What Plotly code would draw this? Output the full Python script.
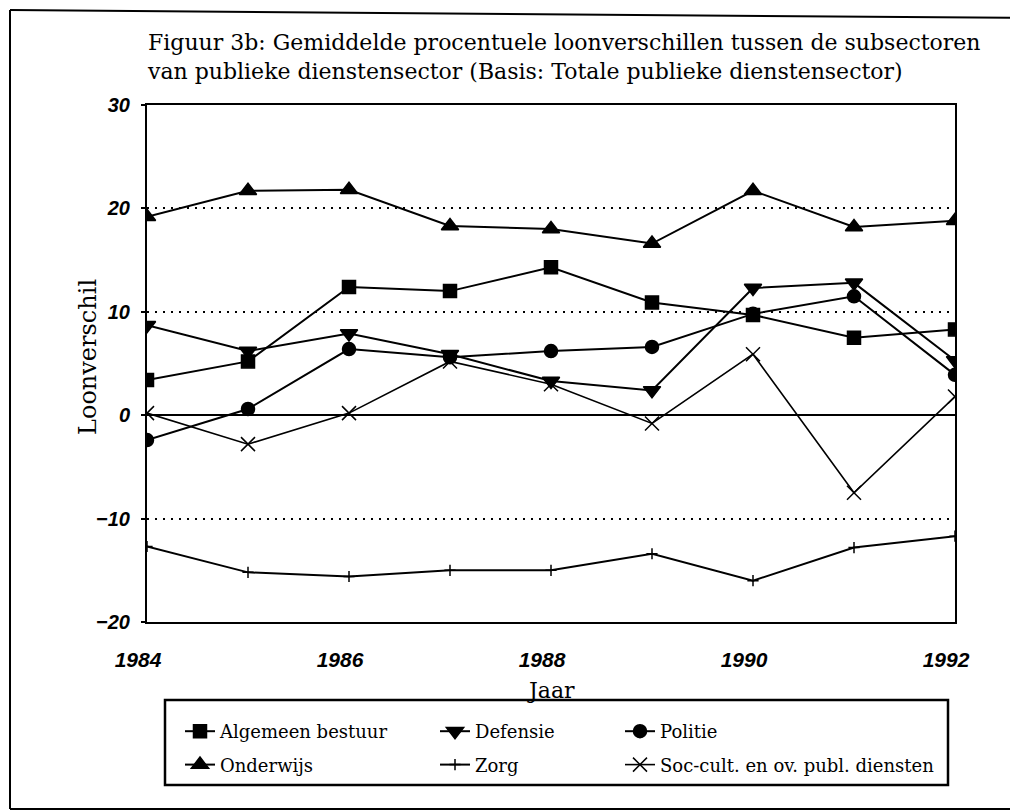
import plotly.graph_objects as go

years = [1984, 1985, 1986, 1987, 1988, 1989, 1990, 1991, 1992]

algemeen_bestuur = [3.4, 5.2, 12.4, 12.0, 14.3, 10.9, 9.7, 7.5, 8.3]
defensie = [8.7, 6.2, 7.9, 5.9, 3.3, 2.4, 12.3, 12.8, 5.3]
politie = [-2.4, 0.6, 6.4, 5.6, 6.2, 6.6, 9.8, 11.5, 3.9]
onderwijs = [19.2, 21.7, 21.8, 18.3, 18.0, 16.6, 21.7, 18.2, 18.8]
zorg = [-12.7, -15.2, -15.6, -15.0, -15.0, -13.4, -16.0, -12.8, -11.7]
soc_cult = [0.2, -2.8, 0.2, 5.2, 3.0, -0.8, 5.9, -7.5, 1.8]

y_ticks = [-20, -10, 0, 10, 20, 30]
x_ticks = [1984, 1986, 1988, 1990, 1992]

title_text = ("Figuur 3b: Gemiddelde procentuele loonverschillen tussen de subsectoren<br>"
              "van publieke dienstensector (Basis: Totale publieke dienstensector)")

# name, values, symbol, size, line width, legend column
series = [
    ("Algemeen bestuur", algemeen_bestuur, "square", 13, 2, "legend"),
    ("Defensie", defensie, "triangle-down", 15, 2, "legend2"),
    ("Politie", politie, "circle", 13, 2, "legend3"),
    ("Onderwijs", onderwijs, "triangle-up", 15, 2, "legend"),
    ("Zorg", zorg, "cross-thin", 8, 2, "legend2"),
    ("Soc-cult. en ov. publ. diensten", soc_cult, "x-thin", 14, 1.6, "legend3"),
]

fig = go.Figure()
for i, (name, vals, sym, size, lw, leg) in enumerate(series):
    fig.add_trace(go.Scatter(
        x=years, y=vals, name=name, mode="lines+markers",
        line=dict(color="black", width=lw),
        marker=dict(symbol=sym, size=size, color="black",
                    line=dict(color="black", width=1.5)),
        legend=leg, legendgroup="g%d" % i,
    ))

W, H = 1018, 812
OFF = 8  # page body margin offset
serif = "DejaVu Serif"
sans = "Liberation Sans"
# target plot area on screen: x 147..955, y 105..622
L, R, T, B = 147 - OFF, W - (955 - OFF), 105 - OFF, H - (622 - OFF)
PW, PH = W - L - R, H - T - B


def px_x(sx):
    return (sx - OFF - L) / PW


def px_y(sy):
    return (H - B - (sy - OFF)) / PH


leg_common = dict(orientation="v", xref="paper", yref="paper",
                  xanchor="left", yanchor="top", bgcolor="rgba(0,0,0,0)",
                  borderwidth=0, tracegroupgap=7,
                  font=dict(family=serif, size=18, color="black"))
leg_top = px_y(713)

fig.update_layout(
    width=W, height=H,
    margin=dict(l=L, r=R, t=T, b=B),
    paper_bgcolor="white", plot_bgcolor="white",
    title=dict(text=title_text, x=140 / W, xanchor="left", xref="container",
               y=1 - 42 / H, yanchor="top", yref="container",
               font=dict(family=serif, size=22, color="black")),
    xaxis=dict(
        range=[1984, 1992], tickvals=x_ticks, ticktext=[str(v) for v in x_ticks],
        showline=True, mirror=True, linecolor="black", linewidth=2,
        showgrid=False, zeroline=False, ticks="", ticklabelstandoff=18,
        ticklabelshift=-9, automargin=False,
        tickfont=dict(family=sans, size=21, color="black", weight="bold", style="italic"),
    ),
    yaxis=dict(
        range=[-20, 30], tickvals=y_ticks,
        showline=True, mirror=True, linecolor="black", linewidth=2,
        showgrid=True, gridcolor="black", gridwidth=1.5, griddash="2px,6px",
        zeroline=True, zerolinecolor="black", zerolinewidth=2,
        ticks="outside", ticklen=4, tickwidth=1.5, tickcolor="black",
        ticklabelstandoff=7, automargin=False,
        tickfont=dict(family=sans, size=20, color="black", weight="bold", style="italic"),
    ),
    legend=dict(x=px_x(180), y=leg_top, **leg_common),
    legend2=dict(x=px_x(435), y=leg_top, **leg_common),
    legend3=dict(x=px_x(620), y=leg_top, **leg_common),
    showlegend=True,
    annotations=[
        dict(text="Jaar", xref="paper", yref="paper", x=0.5, y=px_y(690),
             showarrow=False, xanchor="center", yanchor="middle",
             font=dict(family=serif, size=22, color="black")),
        dict(text="Loonverschil", xref="paper", yref="paper", x=px_x(88), y=px_y(357),
             showarrow=False, xanchor="center", yanchor="middle", textangle=-90,
             font=dict(family=serif, size=24, color="black")),
    ],
)

# legend box
fig.add_shape(type="rect", xref="paper", yref="paper",
              x0=px_x(165), x1=px_x(948), y0=px_y(785), y1=px_y(700),
              line=dict(color="black", width=2.5), fillcolor="rgba(0,0,0,0)")
# outer figure frame (top, left, bottom)
fig.add_shape(type="line", xref="paper", yref="paper",
              x0=px_x(10), x1=px_x(1026), y0=px_y(10), y1=px_y(18),
              line=dict(color="black", width=2))
fig.add_shape(type="line", xref="paper", yref="paper",
              x0=px_x(10), x1=px_x(10), y0=px_y(10), y1=px_y(809),
              line=dict(color="black", width=2))
fig.add_shape(type="line", xref="paper", yref="paper",
              x0=px_x(10), x1=px_x(1026), y0=px_y(809), y1=px_y(809),
              line=dict(color="black", width=2))

fig.write_html("out.html")
